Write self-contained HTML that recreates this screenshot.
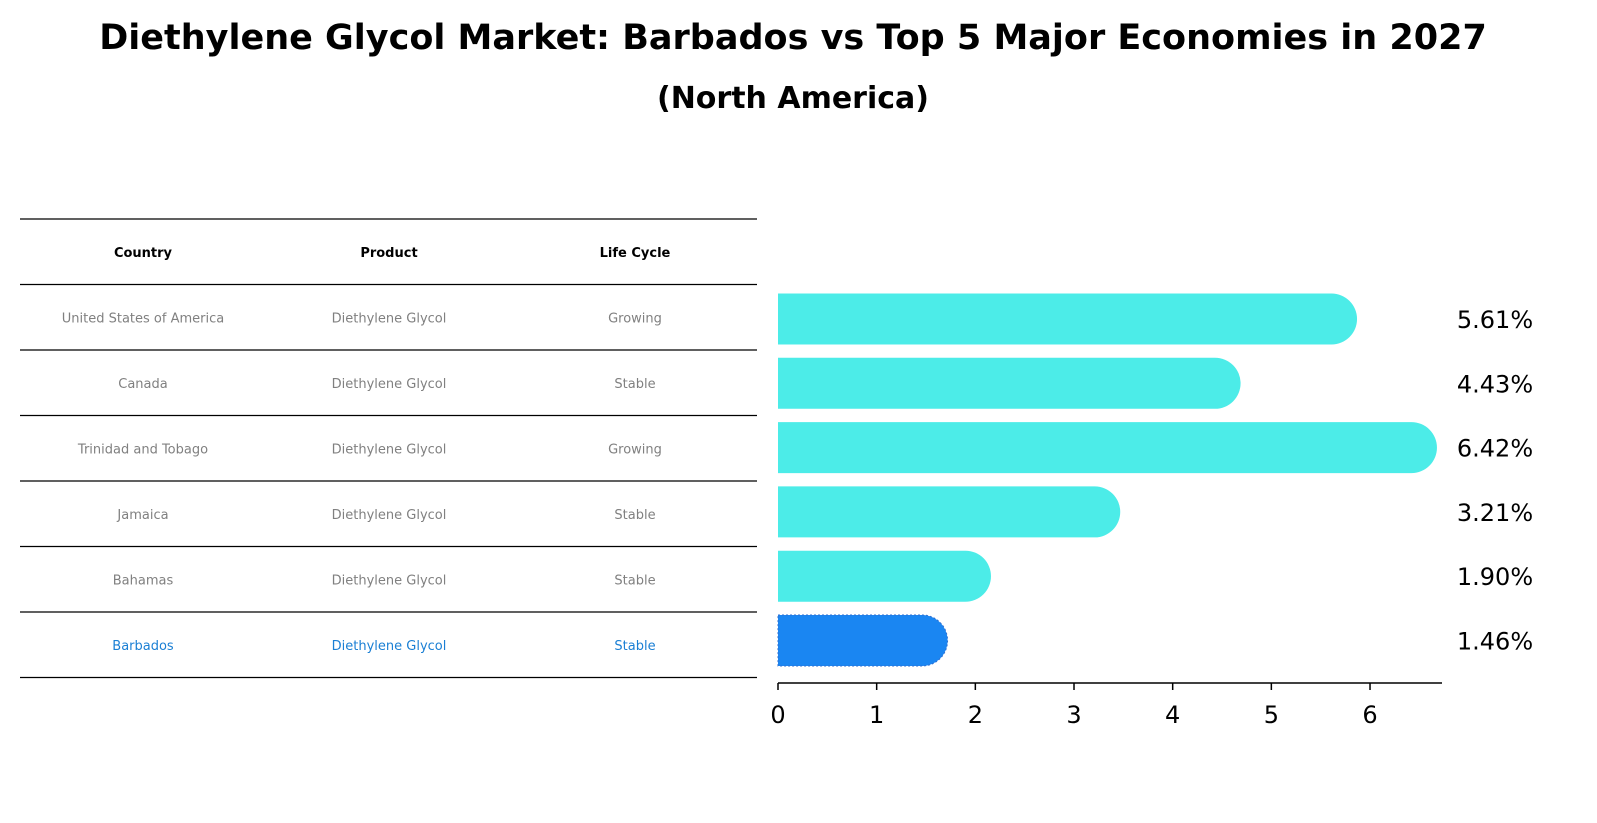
<!DOCTYPE html>
<html><head><meta charset="utf-8"><style>
body{margin:0;background:#fff;font-family:"Liberation Sans","DejaVu Sans",sans-serif;}
svg{display:block}
</style></head><body>
<svg width="1597" height="823" xmlns="http://www.w3.org/2000/svg">
<text x="793" y="49" text-anchor="middle" font-size="35" font-weight="bold" font-family="DejaVu Sans, sans-serif">Diethylene Glycol Market: Barbados vs Top 5 Major Economies in 2027</text>
<text x="793" y="108" text-anchor="middle" font-size="30" font-weight="bold" font-family="DejaVu Sans, sans-serif">(North America)</text>
<g id="table"></g>
<g id="bars"></g>
</svg>
<script>
const countries=["United States of America","Canada","Trinidad and Tobago","Jamaica","Bahamas","Barbados"];
const products=["Diethylene Glycol","Diethylene Glycol","Diethylene Glycol","Diethylene Glycol","Diethylene Glycol","Diethylene Glycol"];
const lifeCycles=["Growing","Stable","Growing","Stable","Stable","Stable"];
const growth=[5.61,4.43,6.42,3.21,1.90,1.46];
const ticks=[0,1,2,3,4,5,6];
const NS="http://www.w3.org/2000/svg";
function mk(tag,attrs,parent){const e=document.createElementNS(NS,tag);for(const k in attrs)e.setAttribute(k,attrs[k]);parent.appendChild(e);return e;}
const tbl=document.getElementById('table');
const rowH=65.5, top0=219;
const colX=[143,389,635];
for(let i=0;i<=7;i++){const y=top0+i*rowH;
 const l=mk('line',{x1:20,x2:757,y1:y,y2:y,stroke:'#000','stroke-width':1.2},tbl);
 
 }
["Country","Product","Life Cycle"].forEach((h,j)=>{
 const t=mk('text',{x:colX[j],y:top0+rowH/2+5,'text-anchor':'middle','font-size':13,'font-weight':'bold','font-family':'DejaVu Sans, sans-serif'},tbl);
 t.textContent=h;
 
 });
countries.forEach((c,i)=>{
 const y=top0+(i+1)*rowH+rowH/2+5;
 const col=c==="Barbados"?'#1a7fd4':'#808080';
 [c,products[i],lifeCycles[i]].forEach((v,j)=>{
  const t=mk('text',{x:colX[j],y:y,'text-anchor':'middle','font-size':13,fill:col,'font-family':'DejaVu Sans, sans-serif'},tbl);
  t.textContent=v;
  
  });
});
const bars=document.getElementById('bars');
const x0=778, pxPer=98.67;
const xs=v=>x0+v*pxPer;
const yc=i=>319+i*64.3;
const bh=51;
growth.forEach((v,i)=>{
 const isB=countries[i]==="Barbados";
 const col=isB?'#1a86f2':'#4cece8';
 const y=yc(i), r=bh/2, xe=xs(v);
 const p=mk('path',{d:`M${x0},${y-r} L${xe},${y-r} A${r},${r} 0 0 1 ${xe},${y+r} L${x0},${y+r} Z`,fill:col},bars);
 if(isB){p.setAttribute('stroke','#2f6fd0');p.setAttribute('stroke-dasharray','2,2');p.setAttribute('stroke-width','1');}
 
 
 const t=mk('text',{x:1495,y:y+9,'text-anchor':'middle','font-size':24,'font-family':'DejaVu Sans, sans-serif'},bars);
 t.textContent=v.toFixed(2)+'%';
 
 
});
const ax=mk('line',{x1:x0,x2:1442,y1:683,y2:683,stroke:'#000','stroke-width':1.5},bars);


ticks.forEach(v=>{
 const tk=mk('line',{x1:xs(v),x2:xs(v),y1:683,y2:690,stroke:'#000','stroke-width':1.5},bars);
 
 
 const t=mk('text',{x:xs(v),y:723,'text-anchor':'middle','font-size':24,'font-family':'DejaVu Sans, sans-serif'},bars);
 t.textContent=v;
 
 
});
</script>
</body></html>
